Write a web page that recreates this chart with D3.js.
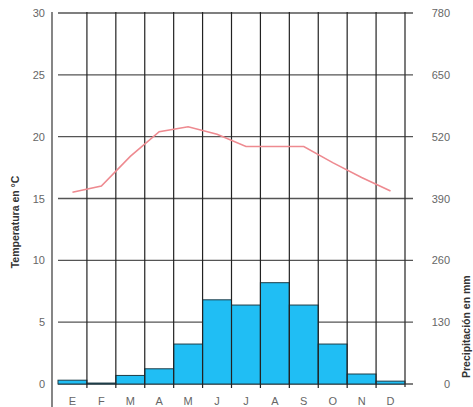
<!DOCTYPE html>
<html><head><meta charset="utf-8">
<script src="https://cdn.jsdelivr.net/npm/d3@7"></script>
<style>
html,body{margin:0;padding:0;background:#fff;}
svg{display:block;font-family:"Liberation Sans",Arial,sans-serif;}
</style></head>
<body>
<svg id="c" width="473" height="407"></svg>
<script>
const months = ["E","F","M","A","M","J","J","A","S","O","N","D"];
const temperature = [15.5, 16.0, 18.4, 20.4, 20.8, 20.2, 19.2, 19.2, 19.2, 17.9, 16.7, 15.6];
const precipitation = [8, 2, 18, 32, 84, 177, 166, 213, 166, 84, 21, 6];
const tempTicks = [0, 5, 10, 15, 20, 25, 30];
const precTicks = [0, 130, 260, 390, 520, 650, 780];

const svg = d3.select("#c");
const x0 = 58, x1 = 405, yTop = 13, yBot = 384;
const x = d3.scaleBand().domain(d3.range(12)).range([x0, x1]).padding(0);
const yT = d3.scaleLinear().domain([0, 30]).range([yBot, yTop]);
const yP = d3.scaleLinear().domain([0, 780]).range([yBot, yTop]);

// horizontal gridlines
svg.append("g").selectAll("line").data(tempTicks).join("line")
  .attr("x1", x0).attr("x2", 413)
  .attr("y1", d => yT(d)).attr("y2", d => yT(d))
  .attr("stroke", "#555").attr("stroke-width", 1.3);

// bars
svg.append("g").selectAll("rect").data(precipitation).join("rect")
  .attr("x", (d, i) => x(i)).attr("width", x.bandwidth())
  .attr("y", d => yP(d)).attr("height", d => yP(0) - yP(d))
  .attr("fill", "#20bef4").attr("stroke", "#1d3d48").attr("stroke-width", 1);

// vertical month lines
svg.append("g").selectAll("line").data(d3.range(1, 12)).join("line")
  .attr("x1", i => x(i)).attr("x2", i => x(i))
  .attr("y1", yTop - 1).attr("y2", yBot + 4)
  .attr("stroke", "#222").attr("stroke-width", 1.2);

// left axis line
svg.append("line").attr("x1", 52).attr("x2", 52).attr("y1", yTop - 1).attr("y2", 407)
  .attr("stroke", "#444").attr("stroke-width", 1.3);
// right axis line
svg.append("line").attr("x1", x1).attr("x2", x1).attr("y1", yTop - 1).attr("y2", yBot + 3)
  .attr("stroke", "#333").attr("stroke-width", 1.3);

// temperature line
const line = d3.line().x((d, i) => x(i) + x.bandwidth() / 2).y(d => yT(d));
svg.append("path").datum(temperature).attr("d", line)
  .attr("fill", "none").attr("stroke", "#ee8a90").attr("stroke-width", 1.6);

// left tick labels
svg.append("g").selectAll("text").data(tempTicks).join("text")
  .attr("x", 45).attr("y", d => yT(d) + 4).attr("text-anchor", "end")
  .attr("font-size", 11).attr("fill", "#666").text(d => d);
// right tick labels
svg.append("g").selectAll("text").data(precTicks).join("text")
  .attr("x", 450).attr("y", d => yP(d) + 4).attr("text-anchor", "end")
  .attr("font-size", 11).attr("fill", "#666").text(d => d);
// month labels
svg.append("g").selectAll("text").data(months).join("text")
  .attr("x", (d, i) => x(i) + x.bandwidth() / 2).attr("y", 405).attr("text-anchor", "middle")
  .attr("font-size", 11).attr("fill", "#666").text(d => d);

// axis titles
svg.append("text").attr("transform", "translate(19,222) rotate(-90)")
  .attr("text-anchor", "middle").attr("font-size", 10.5).attr("font-weight", "bold")
  .attr("fill", "#333").text("Temperatura en °C");
svg.append("text").attr("transform", "translate(470,378) rotate(-90)")
  .attr("text-anchor", "start").attr("font-size", 10.5).attr("font-weight", "bold")
  .attr("fill", "#333").text("Precipitación en mm");
</script>
</body></html>
